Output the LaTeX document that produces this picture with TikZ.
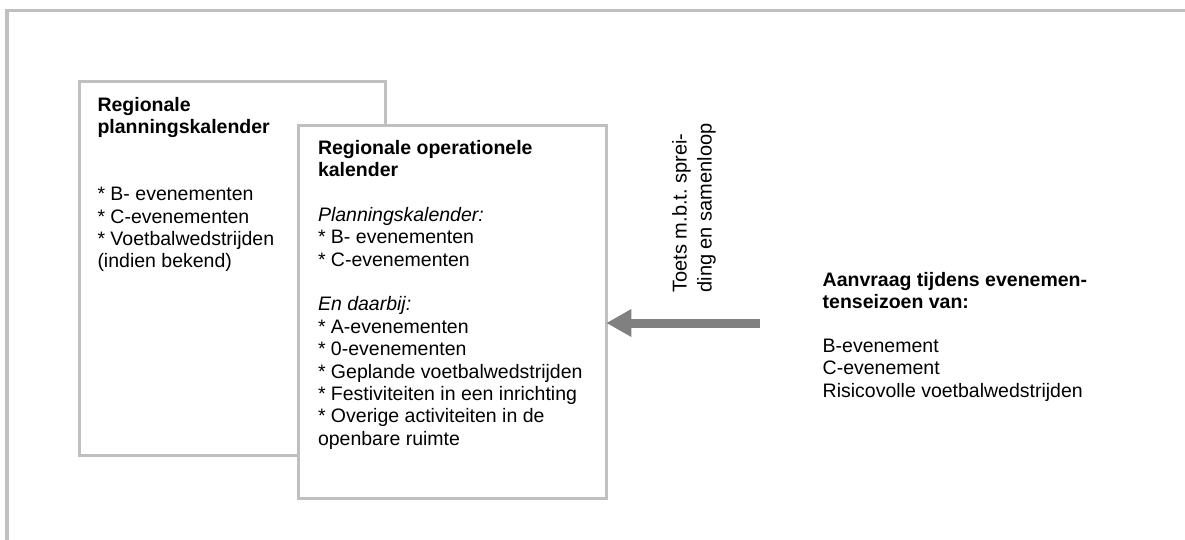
\documentclass[tikz,border=0pt]{standalone}
\usepackage{fontspec}
\setmainfont{Liberation Sans}
\usetikzlibrary{arrows.meta,calc}
\definecolor{boxgray}{HTML}{C0C0C0}
\definecolor{arrowgray}{HTML}{808080}
\frenchspacing
\begin{document}
\begin{tikzpicture}[x=1pt,y=-1pt,
  panel/.style={draw=boxgray,line width=3pt,fill=white,rectangle,inner sep=0pt,outer sep=0pt,anchor=north west},
  txt/.style={align=left,inner sep=0pt,outer sep=0pt,anchor=base west,text=black,font=\frenchspacing\fontsize{19.5}{22.4}\selectfont},
  frameline/.style={draw=boxgray,line width=3.5pt},
  bigarrow/.style={draw=arrowgray,line width=9pt,-{Triangle[length=25pt,width=26pt]}}
]
\useasboundingbox (0,0) rectangle (1185,540);
% outer frame
\draw[frameline] (1190,10.7) -- (7,10.7) -- (7,545);
% boxes
\node[panel,minimum width=306pt,minimum height=373pt] (box1) at (79,82) {};
\node[panel,minimum width=308pt,minimum height=372pt] (box2) at (298.3,126) {};
% texts (anchored at the baseline of their last line)
\node[txt] (t1) at (97.5,267.8) {\textbf{Regionale}\\\textbf{planningskalender}\\[44.8pt]
* B- evenementen\\* C-evenementen\\* Voetbalwedstrijden\\(indien bekend)};
\node[txt] (t2) at (318,445.2) {\textbf{Regionale operationele}\\\textbf{kalender}\\[22.4pt]
\textit{Planningskalender:}\\* B- evenementen\\* C-evenementen\\[22.4pt]
\textit{En daarbij:}\\* A-evenementen\\* 0-evenementen\\* Geplande voetbalwedstrijden\\* Festiviteiten in een inrichting\\* Overige activiteiten in de\\openbare ruimte};
\node[txt,font=\frenchspacing\fontsize{19.5}{22.2}\selectfont] (t3) at (822.7,397) {\textbf{Aanvraag tijdens evenemen-}\\\textbf{tenseizoen van:}\\[22.2pt]
B-evenement\\C-evenement\\Risicovolle voetbalwedstrijden};
\node[txt,rotate=90,font=\frenchspacing\fontsize{20}{25}\selectfont] (t4) at (711.5,292.5) {Toets m.b.t. sprei-\\ding en samenloop};
% arrow
\coordinate (src) at (760,323);
\draw[bigarrow] (src) -- (src -| box2.east);
\end{tikzpicture}
\end{document}
